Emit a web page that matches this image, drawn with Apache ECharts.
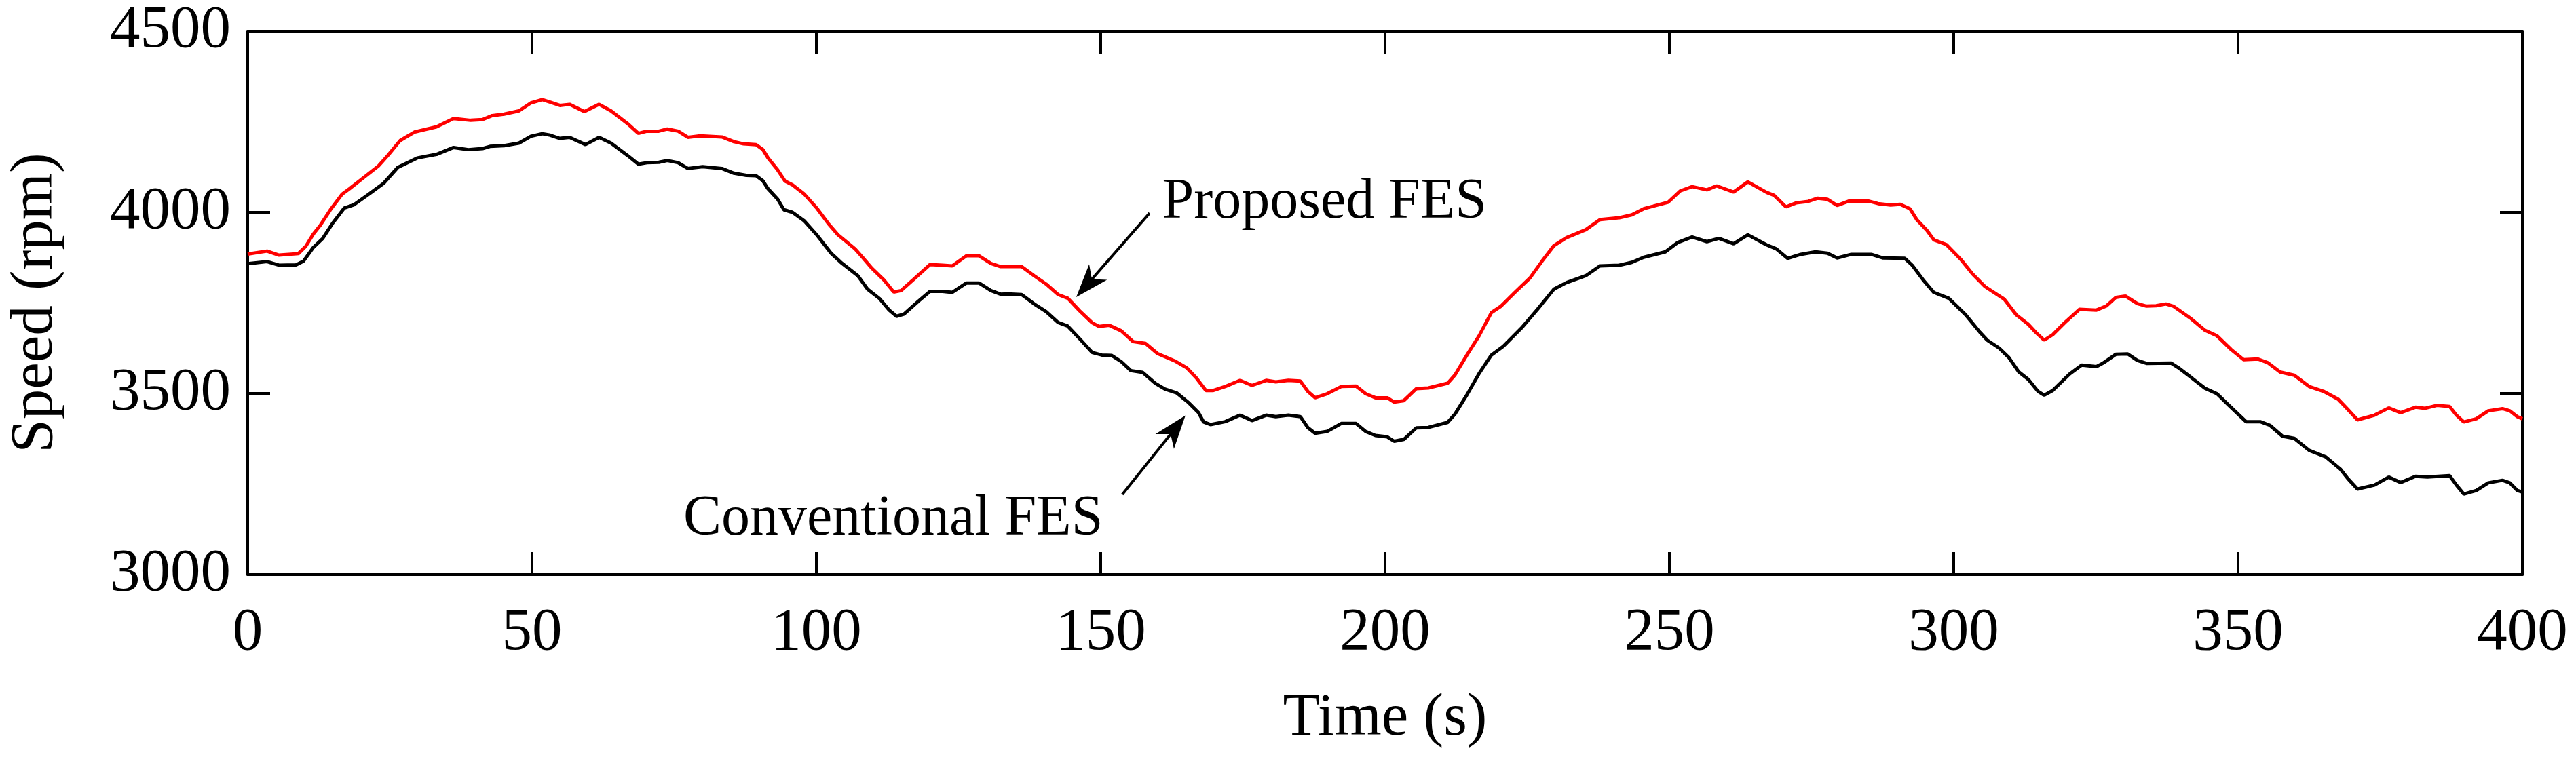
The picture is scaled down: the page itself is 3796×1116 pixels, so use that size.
<!DOCTYPE html>
<html>
<head>
<meta charset="utf-8">
<script src="https://cdn.jsdelivr.net/npm/echarts@6/dist/echarts.min.js"></script>
<style>html,body{margin:0;padding:0;background:#fff}#c{width:3796px;height:1116px}</style>
</head>
<body>
<div id="c"></div>
<script>
// ---- data (time s, speed rpm) ----
const proposedFES = [
 [0,3885],[3.4,3893],[5.5,3882],[8.9,3886],[10.2,3906],[11.5,3939],[12.8,3965],[14.5,4006],[16.6,4050],[17.9,4065],
 [20.0,4091],[23.0,4128],[24.7,4158],[26.8,4198],[29.4,4222],[33.2,4236],[36.2,4259],[39.2,4254],[41.3,4256],[43.0,4267],
 [45.1,4271],[47.7,4280],[49.8,4302],[51.8,4311],[53.2,4304],[54.9,4295],[56.6,4298],[59.2,4278],[61.8,4298],[63.9,4280],
 [66.8,4245],[68.7,4218],[70.2,4224],[72.3,4224],[73.8,4230],[75.7,4224],[77.4,4207],[79.6,4211],[83.4,4208],[85.5,4195],
 [87.2,4189],[89.4,4187],[90.6,4173],[91.5,4150],[93.2,4117],[94.5,4086],[95.8,4076],[97.9,4050],[100.0,4013],[102.1,3969],
 [103.8,3938],[106.8,3899],[108.1,3876],[109.8,3845],[111.9,3813],[113.6,3780],[114.9,3784],[117.1,3815],[120.0,3856],[122.2,3854],
 [123.9,3852],[126.4,3880],[128.6,3880],[130.7,3859],[132.4,3850],[136.1,3850],[138.3,3825],[140.4,3802],[142.5,3773],[144.2,3763],
 [146.3,3728],[148.5,3695],[149.7,3685],[151.5,3688],[153.6,3673],[155.7,3643],[157.9,3638],[160.0,3610],[163.0,3590],[165.1,3571],
 [166.8,3543],[168.5,3508],[169.8,3508],[171.9,3519],[174.5,3536],[176.6,3522],[179.1,3536],[180.8,3532],[183.0,3536],[185.1,3534],
 [186.4,3506],[187.7,3488],[189.8,3499],[192.3,3519],[194.9,3520],[196.6,3499],[198.3,3488],[200.4,3488],[201.6,3476],[203.3,3480],
 [205.5,3513],[207.6,3515],[211.0,3528],[212.3,3551],[214.4,3606],[216.5,3658],[218.7,3723],[220.4,3741],[222.9,3780],[225.5,3819],
 [227.6,3865],[229.7,3908],[231.9,3930],[235.3,3952],[237.8,3980],[241.2,3985],[243.4,3993],[245.5,4010],[247.2,4017],[249.8,4028],
 [251.9,4059],[254.0,4071],[256.6,4062],[258.3,4073],[261.3,4056],[263.8,4084],[267.1,4055],[268.4,4047],[270.5,4015],[272.3,4026],
 [274.4,4030],[276.1,4039],[277.8,4036],[279.5,4019],[281.6,4031],[285.0,4031],[286.7,4024],[288.9,4020],[290.6,4022],[292.3,4010],
 [293.5,3980],[295.3,3950],[296.5,3924],[298.7,3911],[301.2,3871],[303.3,3830],[305.5,3795],[308.9,3760],[311.0,3717],[313.1,3691],
 [314.4,3669],[315.9,3647],[317.4,3662],[319.5,3695],[322.1,3732],[325.1,3730],[326.8,3741],[328.5,3765],[330.2,3769],[332.3,3748],
 [333.9,3741],[335.6,3742],[337.3,3747],[338.6,3741],[341.6,3708],[344.2,3674],[346.3,3659],[348.8,3621],[351.0,3593],[353.5,3595],
 [355.2,3585],[357.4,3559],[359.9,3550],[362.5,3519],[365.0,3506],[367.6,3484],[369.3,3456],[371.0,3427],[374.0,3440],[376.5,3460],
 [378.6,3447],[381.2,3462],[382.9,3459],[385.0,3467],[387.2,3464],[388.4,3440],[389.7,3421],[391.9,3430],[394.0,3452],[396.5,3458],
 [397.8,3452],[399.1,3436],[400,3430]
];
const conventionalFES = [
 [0,3858],[3.4,3864],[5.5,3854],[8.5,3855],[9.8,3865],[11.5,3902],[13.2,3928],[14.9,3969],[17.0,4012],[18.7,4021],
 [21.3,4050],[23.9,4080],[26.4,4124],[29.8,4150],[33.2,4160],[36.2,4179],[38.8,4173],[41.3,4176],[42.6,4182],[45.1,4184],
 [47.7,4191],[49.8,4210],[51.8,4217],[53.2,4213],[54.9,4204],[56.6,4207],[59.4,4187],[61.8,4207],[63.9,4191],[66.8,4157],
 [68.7,4133],[70.2,4137],[72.3,4138],[73.8,4143],[75.7,4137],[77.4,4121],[80.0,4126],[83.4,4121],[85.5,4108],[87.7,4102],
 [89.4,4101],[90.6,4087],[91.5,4065],[93.2,4036],[94.3,4007],[95.8,4000],[97.9,3976],[100.0,3939],[102.6,3887],[104.3,3862],
 [107.3,3825],[109.0,3788],[111.1,3762],[112.8,3730],[114.1,3713],[115.4,3719],[117.9,3754],[120.0,3782],[122.2,3782],[123.9,3779],
 [126.4,3805],[128.6,3805],[130.7,3784],[132.4,3774],[133.6,3775],[136.1,3773],[138.3,3747],[140.4,3726],[142.5,3696],[144.2,3686],
 [146.3,3651],[148.5,3613],[150.2,3606],[151.9,3605],[153.6,3588],[155.3,3563],[157.4,3558],[159.6,3528],[161.3,3512],[163.4,3501],
 [165.5,3474],[167.2,3447],[168.1,3421],[169.3,3414],[171.9,3422],[174.5,3440],[176.6,3425],[179.1,3440],[180.8,3436],[183.0,3440],
 [185.1,3436],[186.4,3406],[187.7,3390],[189.8,3395],[192.3,3417],[194.9,3417],[196.6,3395],[198.3,3384],[200.4,3380],[201.6,3368],
 [203.3,3373],[205.5,3405],[207.6,3406],[211.0,3420],[212.3,3443],[214.4,3496],[216.5,3554],[218.7,3606],[220.8,3630],[224.2,3684],
 [226.8,3732],[229.7,3788],[231.9,3806],[235.3,3825],[237.8,3852],[241.2,3854],[243.4,3862],[245.5,3876],[249.3,3891],[251.5,3917],
 [254.0,3932],[256.6,3919],[258.7,3928],[261.3,3913],[263.8,3938],[267.1,3910],[268.8,3899],[270.8,3873],[273.1,3884],[275.7,3891],
 [277.8,3887],[279.5,3874],[282.0,3884],[285.5,3884],[287.6,3874],[291.4,3873],[292.7,3854],[294.8,3810],[296.5,3779],[299.1,3763],
 [302.1,3717],[304.6,3669],[305.9,3647],[308.0,3625],[309.7,3599],[311.4,3560],[313.1,3539],[314.8,3506],[315.9,3495],[317.4,3508],
 [320.4,3554],[322.5,3578],[325.1,3574],[326.3,3584],[328.5,3608],[330.6,3609],[332.3,3591],[333.9,3583],[338.2,3584],[339.5,3571],
 [342.0,3541],[344.2,3514],[346.3,3499],[348.4,3467],[351.4,3422],[353.9,3422],[355.6,3412],[357.8,3382],[359.9,3376],[362.5,3343],
 [365.4,3325],[368.0,3291],[369.3,3265],[371.0,3236],[374.0,3247],[376.5,3269],[378.6,3254],[381.2,3271],[383.3,3269],[387.2,3273],
 [388.4,3247],[389.7,3222],[391.9,3232],[394.0,3253],[396.5,3260],[397.8,3253],[399.1,3232],[400,3228]
];
const xRange = [0, 400, 50];
const yRange = [3000, 4500, 500];
const xTitle = 'Time (s)';
const yTitle = 'Speed (rpm)';
// annotations: text anchor and arrow [tail, tip] in data coordinates
const annotations = [
  { text: 'Proposed FES', at: [160.8, 4026], align: 'left', tail: [158.6, 3998], tip: [145.7, 3766] },
  { text: 'Conventional FES', at: [150.4, 3152], align: 'right', tail: [153.8, 3221], tip: [164.9, 3439] }
];

const FONT = "'Liberation Serif','Times New Roman',serif";
const chart = echarts.init(document.getElementById('c'), null, { renderer: 'canvas' });
const plain = v => String(v);

function xAx(pos, labels) {
  return {
    type: 'value', position: pos, min: xRange[0], max: xRange[1], interval: xRange[2],
    axisLine: { show: true, onZero: false, lineStyle: { color: '#000', width: 4 } },
    axisTick: { show: true, inside: true, length: 33, lineStyle: { color: '#000', width: 4 } },
    axisLabel: { show: labels, margin: 42, fontSize: 89, fontFamily: FONT, color: '#000', formatter: plain, showMinLabel: true, showMaxLabel: true },
    splitLine: { show: false },
    name: labels ? xTitle : '', nameLocation: 'middle', nameGap: 168,
    nameTextStyle: { fontSize: 89, fontFamily: FONT, color: '#000' }
  };
}
function yAx(pos, labels) {
  return {
    type: 'value', position: pos, min: yRange[0], max: yRange[1], interval: yRange[2],
    axisLine: { show: true, onZero: false, lineStyle: { color: '#000', width: 4 } },
    axisTick: { show: true, inside: true, length: 33, lineStyle: { color: '#000', width: 4 } },
    axisLabel: { show: labels, margin: 25, fontSize: 89, fontFamily: FONT, color: '#000', formatter: plain, showMinLabel: true, showMaxLabel: true },
    splitLine: { show: false },
    name: labels ? yTitle : '', nameLocation: 'middle', nameGap: 268, nameRotate: 90,
    nameTextStyle: { fontSize: 89, fontFamily: FONT, color: '#000' }
  };
}

chart.setOption({
  animation: false,
  backgroundColor: '#fff',
  grid: { left: 363, right: 79, top: 46, bottom: 269, containLabel: false },
  xAxis: [xAx('bottom', true), xAx('top', false)],
  yAxis: [yAx('left', true), yAx('right', false)],
  series: [
    { type: 'line', name: 'Conventional FES', data: conventionalFES, showSymbol: false, symbol: 'none',
      lineStyle: { color: '#000', width: 5 }, xAxisIndex: 0, yAxisIndex: 0 },
    { type: 'line', name: 'Proposed FES', data: proposedFES, showSymbol: false, symbol: 'none',
      lineStyle: { color: '#ff0000', width: 5 }, xAxisIndex: 0, yAxisIndex: 0 }
  ]
});

// annotations (text + arrows), placed through the chart's own coordinate conversion
const g = [];
annotations.forEach(a => {
  const p = chart.convertToPixel({ gridIndex: 0 }, a.at);
  g.push({ type: 'text', x: p[0], y: p[1], style: { text: a.text, fontSize: 84, fontFamily: FONT, fill: '#000', align: a.align, verticalAlign: 'middle' } });
  const t = chart.convertToPixel({ gridIndex: 0 }, a.tail);
  const h = chart.convertToPixel({ gridIndex: 0 }, a.tip);
  const dx = t[0] - h[0], dy = t[1] - h[1], L = Math.hypot(dx, dy);
  const ux = dx / L, uy = dy / L, nx = -uy, ny = ux;
  const headL = 49, notch = 35, hw = 17.5;
  const nP = [h[0] + ux * notch, h[1] + uy * notch];
  g.push({ type: 'line', shape: { x1: t[0], y1: t[1], x2: nP[0], y2: nP[1] }, style: { stroke: '#000', lineWidth: 4 } });
  g.push({ type: 'polygon', shape: { points: [
    h,
    [h[0] + ux * headL + nx * hw, h[1] + uy * headL + ny * hw],
    nP,
    [h[0] + ux * headL - nx * hw, h[1] + uy * headL - ny * hw]
  ] }, style: { fill: '#000' } });
});
chart.setOption({ graphic: g });
</script>
</body>
</html>
